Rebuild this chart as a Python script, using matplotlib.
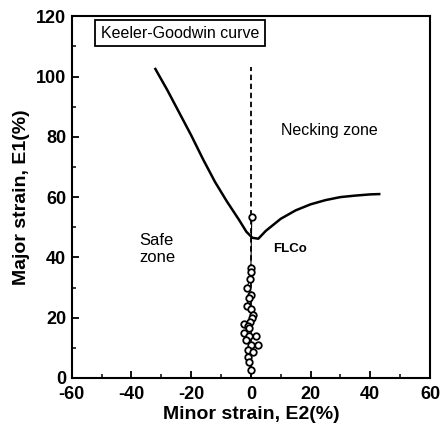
import numpy as np
import matplotlib.pyplot as plt

plt.rcParams['font.family'] = ['Liberation Sans', 'DejaVu Sans']
plt.rcParams['axes.unicode_minus'] = False

# Keeler-Goodwin forming limit curve
curve_e2 = [-32, -28, -24, -20, -16, -12, -8, -4, -1.5, 0.5, 2.5, 5, 10, 15, 20, 25, 30, 35, 40, 43]
curve_e1 = [102.5, 95.5, 88, 80.5, 72.5, 65, 58.5, 52.5, 48.5, 46.5, 46.2, 48.8, 52.8, 55.6, 57.6, 59, 60, 60.5, 60.9, 61]

# measured strain points
pts_e2 = [0.3, 0, 0, -0.3, -1.3, 0, -0.7, -1.3, 0, 0.7, 0.3, -0.3, -2.3, -1, -0.7, -2.3,
          -0.7, 1.7, -1.7, 0, 2.3, -1, 0.7, -1, -0.7, 0]
pts_e1 = [53.5, 36.4, 35, 33, 30, 27.5, 26.5, 24, 23, 21, 20, 18.5, 18, 17.4, 16.5, 15,
          14, 14, 12.6, 11, 11, 9.3, 8.6, 7, 5.3, 2.7]

fig = plt.figure(figsize=(4.46, 4.38), dpi=100)
ax = fig.add_axes([0.161, 0.137, 0.803, 0.826])

ax.plot(curve_e2, curve_e1, color='black', lw=1.8)
ax.plot([0, 0], [0, 103], color='black', lw=1.3, ls=(0, (3, 2)))
ax.plot(pts_e2, pts_e1, color='black', lw=0.8)
ax.scatter(pts_e2, pts_e1, s=22, facecolors='white', edgecolors='black', linewidths=1.3, zorder=3)

ax.text(-23.7, 114.3, 'Keeler-Goodwin curve', ha='center', va='center', fontsize=11.5,
        bbox=dict(boxstyle='square,pad=0.35', fc='white', ec='black', lw=1.3))
ax.text(26.3, 82, 'Necking zone', ha='center', va='center', fontsize=11.5)
ax.text(-37.5, 42.7, 'Safe\nzone', ha='left', va='center', fontsize=12, linespacing=1.2)
ax.text(7.3, 42.7, 'FLCo', ha='left', va='center', fontsize=9.5, fontweight='bold')

ax.set_xlim(-60, 60)
ax.set_ylim(0, 120)
ax.set_xticks(np.arange(-60, 61, 20))
ax.set_yticks(np.arange(0, 121, 20))
ax.set_xticks(np.arange(-60, 61, 10), minor=True)
ax.set_yticks(np.arange(0, 121, 10), minor=True)
ax.tick_params(direction='in', which='major', length=5, width=1.3, labelsize=13)
ax.tick_params(axis='x', which='major', pad=6)
ax.tick_params(axis='y', which='major', pad=4)
ax.tick_params(direction='in', which='minor', length=3, width=1.1)
for lab in ax.get_xticklabels() + ax.get_yticklabels():
    lab.set_fontweight('bold')
for sp in ax.spines.values():
    sp.set_linewidth(1.5)

ax.set_xlabel('Minor strain, E2(%)', fontsize=14, fontweight='bold', labelpad=2)
ax.set_ylabel('Major strain, E1(%)', fontsize=14, fontweight='bold', labelpad=4)

fig.savefig('out.png', dpi=100)
